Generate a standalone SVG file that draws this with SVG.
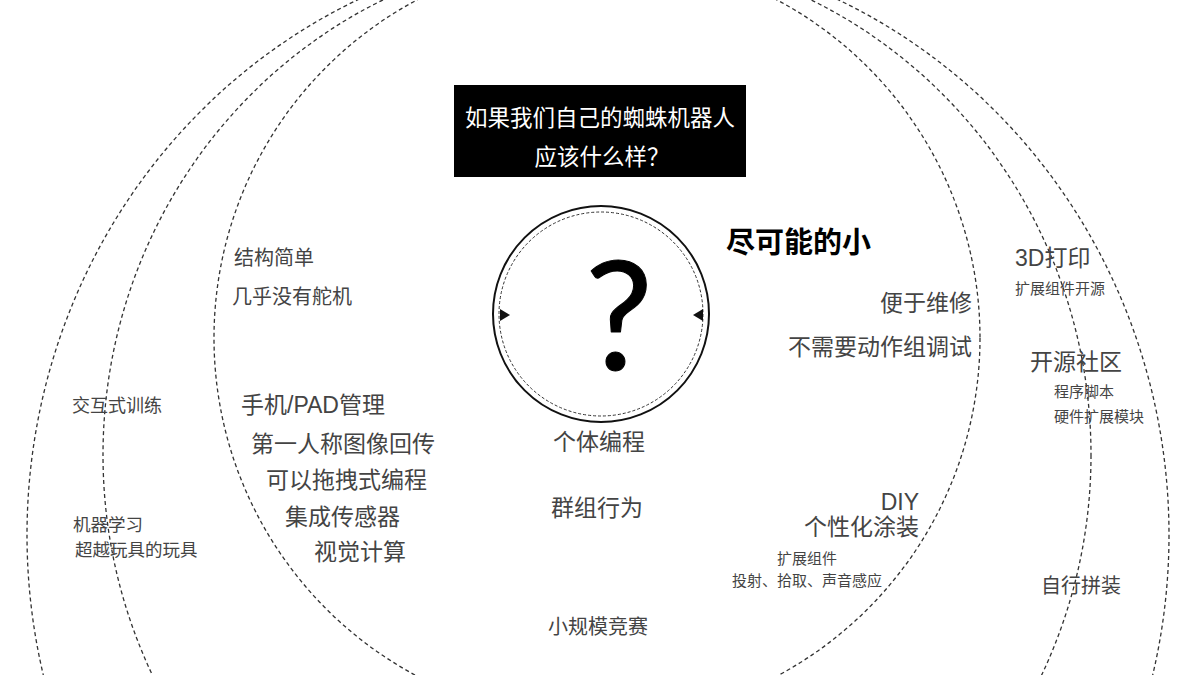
<svg xmlns="http://www.w3.org/2000/svg" width="1200" height="675" viewBox="0 0 1200 675">
  <style>
    .ring { fill: none; stroke: #333; stroke-width: 1.3; stroke-dasharray: 4 3; }
    .t { font-family: 'Liberation Sans', 'Noto Sans CJK SC', sans-serif; fill: #444; }
    .m { font-size: 23px; }
    .s { font-size: 15px; }
    .l { font-size: 20px; }
    .f { font-size: 17.5px; }
    .end { text-anchor: end; }
    .mid { text-anchor: middle; }
  </style>
  <defs>
    <polygon id="arrowR" points="-5,-6 5,0 -5,6" fill="#111"/>
    <polygon id="arrowL" points="5,-6 -5,0 5,6" fill="#111"/>
  </defs>
  <rect width="1200" height="675" fill="#fff"/>

  <g id="rings">
    <ellipse class="ring" cx="598" cy="535" rx="571" ry="590"/>
    <ellipse class="ring" cx="597" cy="455" rx="494" ry="505"/>
    <circle class="ring" cx="597" cy="338" r="383"/>
  </g>

  <g id="title">
    <rect x="454" y="85" width="292" height="92" fill="#000"/>
    <text class="t mid" x="600" y="126" font-size="22.5" style="fill:#fff">如果我们自己的蜘蛛机器人</text>
    <text class="t mid" x="602" y="165" font-size="22.5" style="fill:#fff">应该什么样？</text>
  </g>

  <g id="center">
    <circle cx="601" cy="314" r="108" fill="none" stroke="#111" stroke-width="2"/>
    <circle cx="601" cy="314" r="102" fill="none" stroke="#333" stroke-width="1" stroke-dasharray="3 2"/>
    <use href="#arrowR" x="505" y="315"/>
    <use href="#arrowL" x="698" y="315"/>
    <text x="619" y="370" font-family="Lato, 'Liberation Sans', sans-serif" font-size="152" text-anchor="middle" fill="#000" stroke="#000" stroke-width="1" stroke-linejoin="round">?</text>
  </g>

  <g id="small">
    <text class="t" x="726" y="253" font-size="29" font-weight="bold" style="fill:#000">尽可能的小</text>
    <text class="t m end" x="972" y="311">便于维修</text>
    <text class="t m end" x="972" y="355">不需要动作组调试</text>
  </g>

  <g id="diy">
    <text class="t m end" x="919" y="510">DIY</text>
    <text class="t m end" x="919" y="535">个性化涂装</text>
    <text class="t s" x="777" y="564">扩展组件</text>
    <text class="t s" x="732" y="586">投射、拾取、声音感应</text>
  </g>

  <g id="programming">
    <text class="t m mid" x="599" y="450">个体编程</text>
    <text class="t m mid" x="597" y="516">群组行为</text>
    <text class="t l mid" x="598" y="634">小规模竞赛</text>
  </g>

  <g id="structure">
    <text class="t l" x="234" y="265">结构简单</text>
    <text class="t l" x="232" y="304">几乎没有舵机</text>
  </g>

  <g id="control">
    <text class="t m" x="241" y="413">手机/PAD管理</text>
    <text class="t m" x="251" y="452">第一人称图像回传</text>
    <text class="t m" x="266" y="488">可以拖拽式编程</text>
    <text class="t m" x="285" y="525">集成传感器</text>
    <text class="t m" x="314" y="560">视觉计算</text>
  </g>

  <g id="training">
    <text class="t" x="72" y="412" font-size="18">交互式训练</text>
  </g>

  <g id="learning">
    <text class="t f" x="73" y="531">机器学习</text>
    <text class="t f" x="75" y="556">超越玩具的玩具</text>
  </g>

  <g id="print3d">
    <text class="t m" x="1015" y="266">3D打印</text>
    <text class="t s" x="1015" y="294">扩展组件开源</text>
  </g>

  <g id="community">
    <text class="t m" x="1030" y="370">开源社区</text>
    <text class="t s" x="1054" y="397">程序脚本</text>
    <text class="t s" x="1054" y="422">硬件扩展模块</text>
  </g>

  <g id="assembly">
    <text class="t l" x="1041" y="593">自行拼装</text>
  </g>
</svg>
